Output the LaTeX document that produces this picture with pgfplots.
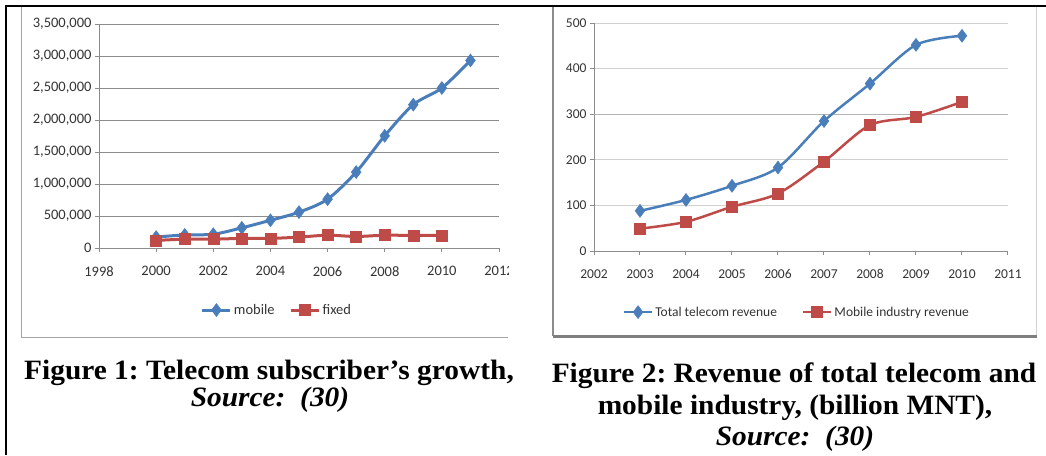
\documentclass[border=0pt]{standalone}
\usepackage{fontspec}
\setmainfont{Carlito}
\newfontfamily\capfont{Liberation Serif}
\usepackage{pgfplots}
\pgfplotsset{compat=1.18}

\definecolor{serblue}{HTML}{4A7EBB}
\definecolor{serred}{HTML}{BE4B48}
\definecolor{gridA}{HTML}{8C8C8C}
\definecolor{gridB}{HTML}{D0D0D0}
\definecolor{ticktext}{HTML}{333333}

\pgfplotsset{
  excel/.style={
    scale only axis, anchor=south west,
    axis x line=bottom, axis y line=left,
    axis line style={-, draw=gridA, line width=1pt},
    tick align=outside, major tick length=4pt,
    tick style={draw=gridA, line width=1pt},
    ymajorgrids, clip=false,
    /pgf/number format/assume math mode=true,
    xticklabel style={/pgf/number format/1000 sep=, yshift=-11pt},
    ticklabel style={text=ticktext},
    legend columns=2,
    legend style={draw=none, fill=none, text=ticktext, anchor=center},
    legend image code/.code={
      \draw[mark repeat=2, mark phase=2] plot coordinates {(0pt,0pt) (14pt,0pt) (28pt,0pt)};
    },
  },
}
% captions: Times-like, slightly wide as in the scan
\newcommand\captxt[1]{\scalebox{1.05}[1]{#1}}

\begin{document}
\frenchspacing
\begin{tikzpicture}
\useasboundingbox (0,0) rectangle (1046pt,-455pt);

% chart 1 frame
\draw[gridA!80, line width=1pt] (21pt,-7pt) -- (21pt,-337pt) -- (508pt,-337pt);

\begin{axis}[excel,
  at={(99pt,-248pt)}, width=400pt, height=224pt,
  xmin=1998, xmax=2012, ymin=0, ymax=3500000,
  xtick={1998,2000,...,2012},
  ytick={0,500000,...,3500000},
  scaled y ticks=false,
  yticklabel style={/pgf/number format/.cd, fixed, 1000 sep={,}},
  grid style={draw=gridA, line width=1pt},
  ticklabel style={font=\fontsize{14.5}{16}\selectfont},
  legend style={at={(0.445,-0.277)}, font=\fontsize{14.5}{16}\selectfont,
    /tikz/every even column/.append style={column sep=13pt}},
]
\addplot[serblue, line width=3pt, smooth, mark=diamond*, mark size=6.5pt,
  mark options={line width=0.5pt}] coordinates {
  (2000,170000) (2001,205000) (2002,215000) (2003,315000) (2004,433000)
  (2005,560000) (2006,763000) (2007,1186000) (2008,1753000) (2009,2240000)
  (2010,2500000) (2011,2930000)
};
\addlegendentry{mobile}
\addplot[serred, line width=3pt, smooth, mark=square*, mark size=5.5pt,
  mark options={line width=0.5pt}] coordinates {
  (2000,118000) (2001,138000) (2002,138000) (2003,150000) (2004,150000)
  (2005,170000) (2006,200000) (2007,180000) (2008,200000) (2009,196000)
  (2010,196000)
};
\addlegendentry{fixed}
\end{axis}
% the scanned chart image ends here
\fill[white] (509pt,-255pt) rectangle (550pt,-292pt);

% chart 2 frame
\draw[gridA!40, line width=1pt] (1036pt,-7pt) -- (1036pt,-336pt);
\draw[gridA, line width=2pt] (553pt,-7pt) -- (553pt,-336pt);
\draw[gridA!90!black, line width=3pt] (553pt,-336pt) -- (1037pt,-336pt);

\begin{axis}[excel,
  at={(594pt,-251pt)}, width=414pt, height=228pt,
  xmin=2002, xmax=2011, ymin=0, ymax=500,
  xtick={2002,...,2011},
  ytick={0,100,...,500},
  extra y ticks={300}, extra y tick labels={},
  extra y tick style={grid style={draw=gridA!65, line width=1.3pt}, major tick length=4pt},
  grid style={draw=gridB, line width=1pt},
  ticklabel style={font=\fontsize{13.5}{15}\selectfont},
  legend style={at={(0.49,-0.268)}, font=\fontsize{13.5}{15}\selectfont,
    /tikz/every even column/.append style={column sep=23pt}},
]
\addplot[serblue, line width=2.5pt, smooth, mark=diamond*, mark size=6.5pt,
  mark options={line width=0.5pt}] coordinates {
  (2003,88) (2004,112) (2005,143) (2006,183) (2007,285) (2008,367)
  (2009,452) (2010,472)
};
\addlegendentry{Total telecom revenue}
\addplot[serred, line width=2.5pt, smooth, mark=square*, mark size=5.5pt,
  mark options={line width=0.5pt}] coordinates {
  (2003,49) (2004,64) (2005,97) (2006,126) (2007,196) (2008,276)
  (2009,294) (2010,327)
};
\addlegendentry{Mobile industry revenue}
\end{axis}

% page border lines
\draw[black, line width=2.5pt] (5pt,-6pt) -- (1046pt,-6pt);
\draw[black, line width=2.5pt] (6pt,-5pt) -- (6pt,-455pt);

% captions
\begin{scope}[every node/.style={font=\capfont\bfseries\fontsize{28}{30}\selectfont, anchor=base, inner sep=0pt}]
\node at (269pt,-379pt) {\captxt{Figure 1: Telecom subscriber’s growth,}};
\node[font=\capfont\bfseries\itshape\fontsize{28}{30}\selectfont] at (270pt,-406pt) {\captxt{Source:\ \ (30)}};
\node at (794pt,-382pt) {\captxt{Figure 2: Revenue of total telecom and}};
\node at (795pt,-414pt) {\captxt{mobile industry, (billion MNT),}};
\node[font=\capfont\bfseries\itshape\fontsize{28}{30}\selectfont] at (795pt,-445pt) {\captxt{Source:\ \ (30)}};
\end{scope}
\end{tikzpicture}
\end{document}
